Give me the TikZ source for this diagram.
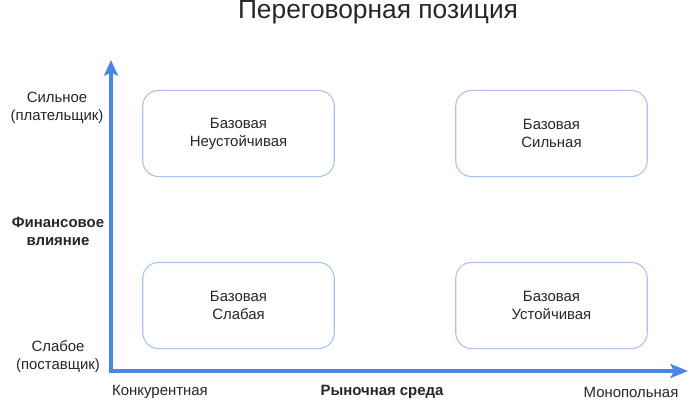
\documentclass[tikz,border=0pt]{standalone}
\usepackage{fontspec}
\setmainfont{Liberation Sans}
\usetikzlibrary{arrows.meta}
\definecolor{axisblue}{HTML}{4A86E8}
\definecolor{boxblue}{HTML}{A4C2F4}
\definecolor{txtgray}{HTML}{262626}

\begin{document}
\begin{tikzpicture}[x=0.02cm,y=-0.02cm,font=\fontsize{8.5}{10.2}\selectfont,text=txtgray]
\tikzset{
  axis/.style={line width=2.3pt, draw=axisblue,
    {Stealth[length=9pt,width=8pt,inset=2pt]}-{Stealth[length=10pt,width=8pt,inset=2pt]}},
  quadbox/.style={draw=boxblue, line width=0.6pt, rounded corners=9pt,
    minimum width=109pt, minimum height=49pt, align=center},
  axislabel/.style={align=center}
}
\useasboundingbox (0,0) rectangle (699,406);

% title
\node[font=\fontsize{15}{18}\selectfont] (title) at (378,12) {Переговорная позиция};

% axes
\coordinate (origin) at (111,371);
\coordinate (ytip) at (111,60);
\coordinate (xtip) at (688,371);
\draw[axis] (ytip) -- (origin) -- (xtip);

% quadrants
\node[quadbox] (unstable) at (238.5,133.5) {Базовая\\Неустойчивая};
\node[quadbox] (strongpos) at (551.5,133.5) {Базовая\\Сильная};
\node[quadbox] (weakpos) at (238.5,305.5) {Базовая\\Слабая};
\node[quadbox] (stable) at (551.5,305.5) {Базовая\\Устойчивая};

% vertical axis labels
\node[axislabel] (payer) at (57,108) {Сильное\\(плательщик)};
\node[axislabel, font=\fontsize{8.5}{10.2}\selectfont\bfseries] (finance) at (58,231) {Финансовое\\влияние};
\node[axislabel] (supplier) at (58,357) {Слабое\\(поставщик)};

% horizontal axis labels
\node (compet) at (160,392) {Конкурентная};
\node[font=\fontsize{8.5}{10.2}\selectfont\bfseries] (market) at (382,392) {Рыночная среда};
\node (monop) at (631,392) {Монопольная};
\end{tikzpicture}
\end{document}
